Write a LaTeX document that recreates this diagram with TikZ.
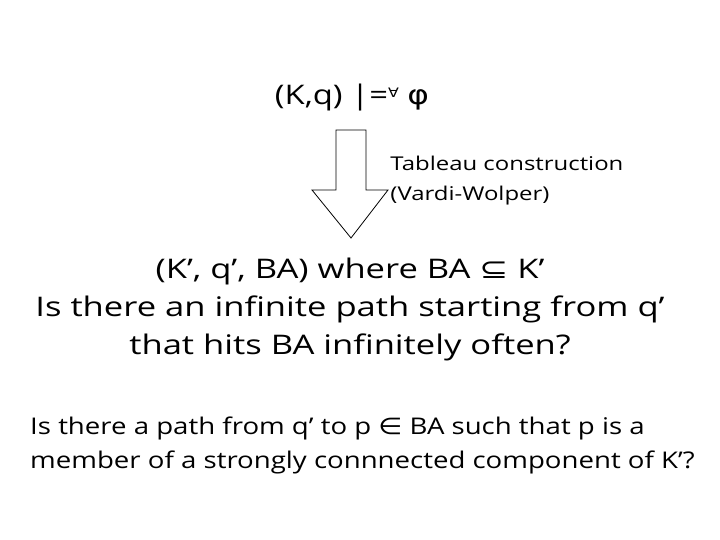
\documentclass[tikz,border=0pt]{standalone}
\usepackage{fontspec}
\setmainfont{Open Sans}
\newfontfamily\symf{DejaVu Sans}
\begin{document}
\begin{tikzpicture}[x=1pt,y=-1pt,
  big/.style={font=\fontsize{27}{38}\selectfont,align=center,transform shape,xscale=1.28},
  mid/.style={font=\fontsize{19}{30}\selectfont,align=left,transform shape,xscale=1.26},
  sm/.style={font=\fontsize{23}{34}\selectfont,align=left,transform shape,xscale=1.2}]
\useasboundingbox[fill=white] (0,0) rectangle (720,540);
\node[big,xscale=0.95] (top) at (352,98) {(K,q) |=\raisebox{0.5ex}{\symf\fontsize{13}{13}\selectfont ∀} {\symf φ}};
\draw[line width=0.8pt] (336,130) -- (366,130) -- (366,190) -- (388,190) -- (351,238) -- (312,190) -- (336,190) -- cycle;
\node[mid,anchor=west] (tab) at (386,181) {Tableau construction\\(Vardi-Wolper)};
\node[big] (mid) at (350,309) {(K’, q’, BA) where BA {\symf ⊆} K’\\Is there an infinite path starting from q’\\that hits BA infinitely often?};
\node[sm,anchor=west] (q) at (26,445) {Is there a path from q’ to p {\symf ∈} BA such that p is a\\member of a strongly connnected component of K’?};
\end{tikzpicture}
\end{document}
